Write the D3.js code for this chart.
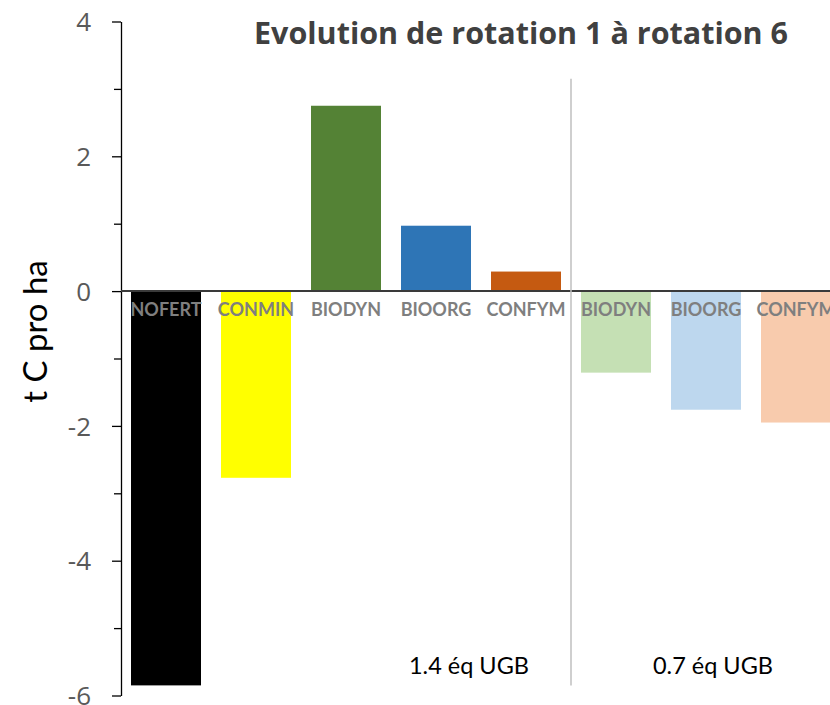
<!DOCTYPE html>
<html>
<head>
<meta charset="utf-8">
<script src="https://cdn.jsdelivr.net/npm/d3@7"></script>
<style>
  html, body { margin: 0; padding: 0; background: #fff; }
  svg { display: block; }
</style>
</head>
<body>
<svg id="chart" width="830" height="705"></svg>
<script>
// Carbon stock change between rotation 1 and rotation 6 (t C per ha)
const categories = ["NOFERT", "CONMIN", "BIODYN", "BIOORG", "CONFYM", "BIODYN", "BIOORG", "CONFYM"];
const values = [-5.85, -2.77, 2.75, 0.97, 0.29, -1.21, -1.76, -1.95];
const barColors = ["#000000", "#ffff00", "#548235", "#2e75b6", "#c55a11", "#c5e0b4", "#bdd7ee", "#f8cbad"];
const groupLabels = ["1.4 éq UGB", "0.7 éq UGB"];
const groupSizes = [5, 3];
const yTicks = [-6, -4, -2, 0, 2, 4];
const yMinorTicks = [-5, -3, -1, 1, 3];

const svg = d3.select("#chart");
const plotLeft = 121, plotTop = 21.5, plotBottom = 695.5;
const step = 90;
const keys = categories.map((c, i) => i);

const x = d3.scaleBand()
  .domain(keys)
  .range([plotLeft, plotLeft + step * categories.length])
  .paddingInner(20 / 90)
  .paddingOuter(10 / 90);

const y = d3.scaleLinear().domain([-6, 4]).range([plotBottom, plotTop]);

// Bars
svg.append("g").selectAll("rect")
  .data(values)
  .join("rect")
  .attr("x", (d, i) => x(i))
  .attr("width", x.bandwidth())
  .attr("y", d => y(Math.max(0, d)))
  .attr("height", d => Math.abs(y(d) - y(0)))
  .attr("fill", (d, i) => barColors[i]);

// Minor ticks
svg.append("g")
  .attr("transform", `translate(${plotLeft},0)`)
  .call(d3.axisLeft(y).tickValues(yMinorTicks).tickSize(7).tickFormat(""))
  .call(g => g.select(".domain").remove())
  .call(g => g.selectAll("line").attr("stroke", "#000").attr("stroke-width", 1.3));

// Major axis
const yAxis = svg.append("g")
  .attr("transform", `translate(${plotLeft},0)`)
  .call(d3.axisLeft(y).tickValues(yTicks).tickSize(9).tickSizeOuter(0).tickPadding(21)
    .tickFormat(d => d3.format("d")(d).replace("−", "-")));
yAxis.select(".domain").attr("stroke", "#000").attr("stroke-width", 1.3);
yAxis.selectAll(".tick line").attr("stroke", "#000").attr("stroke-width", 1.3);
yAxis.selectAll(".tick text")
  .attr("fill", "#595959")
  .attr("font-family", "'Open Sans', Lato, sans-serif")
  .attr("font-size", 26)
  .attr("dy", "0.35em");

// Zero line
svg.append("line")
  .attr("x1", plotLeft).attr("x2", 830)
  .attr("y1", y(0)).attr("y2", y(0))
  .attr("stroke", "#3a3a3a").attr("stroke-width", 2);

// Group separator
const sepX = (x(groupSizes[0] - 1) + x.bandwidth() + x(groupSizes[0])) / 2;
svg.append("line")
  .attr("x1", sepX).attr("x2", sepX)
  .attr("y1", y(3.15)).attr("y2", y(-5.85))
  .attr("stroke", "#bfbfbf").attr("stroke-width", 1.5);

// Category labels
svg.append("g").selectAll("text")
  .data(categories)
  .join("text")
  .attr("x", (d, i) => x(i) + x.bandwidth() / 2)
  .attr("y", y(0) + 25)
  .attr("text-anchor", "middle")
  .attr("fill", "#7f7f7f")
  .attr("font-family", "Lato, 'Open Sans', sans-serif")
  .attr("font-weight", "bold")
  .attr("font-size", 18)
  .text(d => d);

// Group labels: first one sits near the separator, second centred on its group
const lastBandEnd = x(categories.length - 1) + x.bandwidth();
const groupX = [sepX - 102, (x(groupSizes[0]) + lastBandEnd) / 2 + 7];
svg.append("g").selectAll("text")
  .data(groupLabels)
  .join("text")
  .attr("x", (d, i) => groupX[i])
  .attr("y", 674)
  .attr("text-anchor", "middle")
  .attr("fill", "#000")
  .attr("font-family", "Lato, 'Open Sans', sans-serif")
  .attr("font-size", 23.5)
  .text(d => d);

// Title
svg.append("text")
  .attr("x", 521)
  .attr("y", 44)
  .attr("text-anchor", "middle")
  .attr("fill", "#404040")
  .attr("font-family", "'Open Sans', Lato, sans-serif")
  .attr("font-weight", "bold")
  .attr("font-size", 30.5)
  .text("Evolution de rotation 1 à rotation 6");

// Y axis title
svg.append("text")
  .attr("transform", `translate(47, ${y(-0.6)}) rotate(-90)`)
  .attr("text-anchor", "middle")
  .attr("fill", "#000")
  .attr("font-family", "Lato, 'Open Sans', sans-serif")
  .attr("font-size", 33)
  .text("t C pro ha");
</script>
</body>
</html>
